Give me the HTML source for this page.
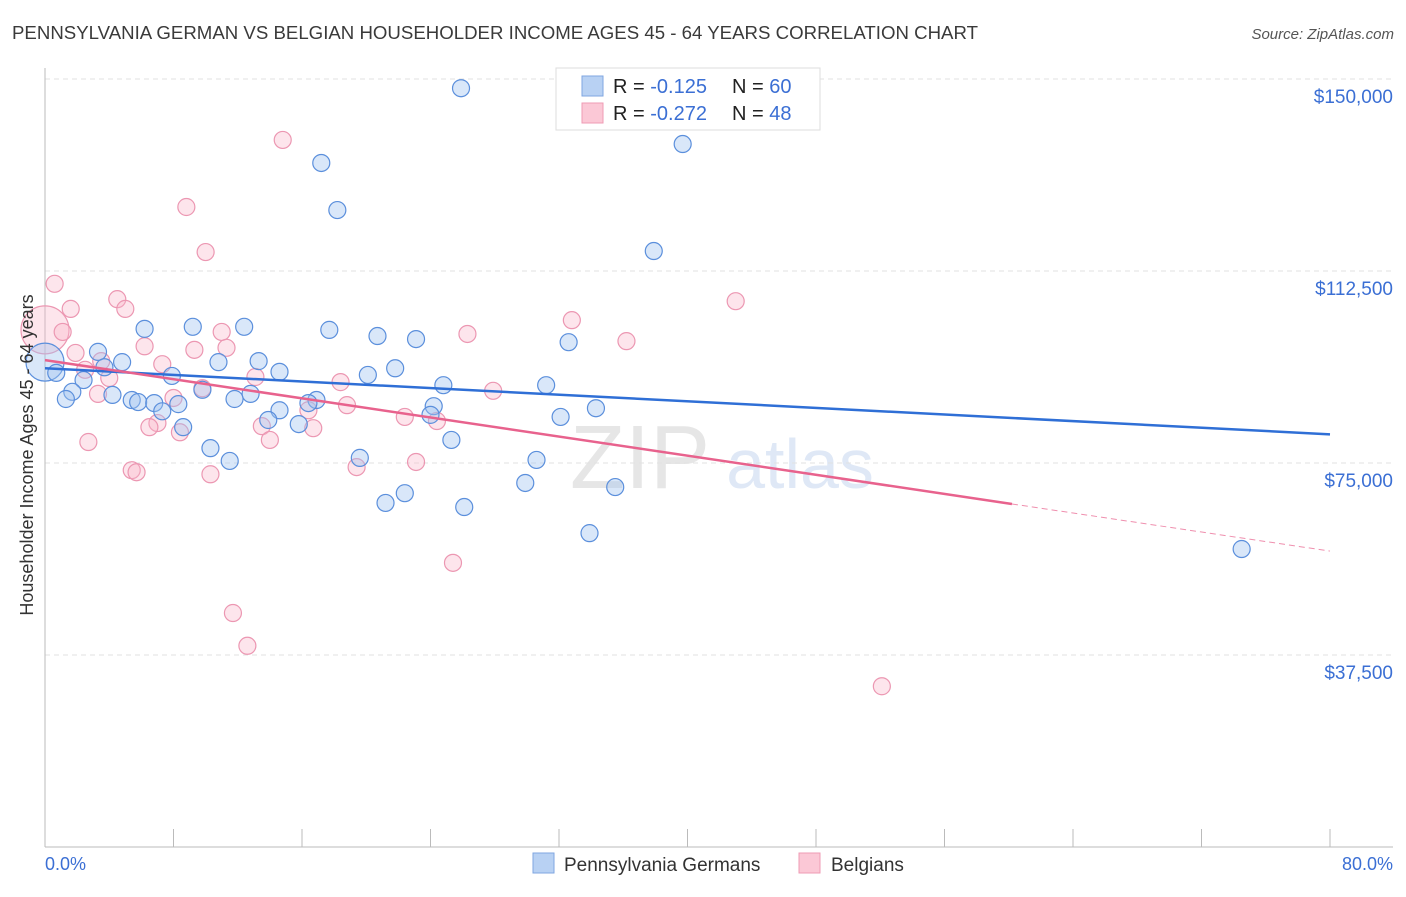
<!DOCTYPE html>
<html><head><meta charset="utf-8"><style>
body{margin:0;background:#fff;font-family:"Liberation Sans",sans-serif;}
svg text{font-family:"Liberation Sans",sans-serif;}
</style></head><body>
<svg id="chart" width="1406" height="892">
<text x="12" y="39" font-size="18" fill="#3a3a3a" textLength="966" lengthAdjust="spacingAndGlyphs">PENNSYLVANIA GERMAN VS BELGIAN HOUSEHOLDER INCOME AGES 45 - 64 YEARS CORRELATION CHART</text>
<text x="1394" y="39" font-size="15" fill="#555" font-style="italic" text-anchor="end">Source: ZipAtlas.com</text>
<text x="640" y="488" font-size="90" fill="#e6e6e6" font-family="Liberation Serif" text-anchor="middle">ZIP</text>
<text x="800" y="488" font-size="70" fill="#dfe8f6" text-anchor="middle">atlas</text>
<g id="grid"></g><g id="axes"></g><g id="pts"></g><g id="lines"></g>
<text x="33" y="455" font-size="18" fill="#333" text-anchor="middle" transform="rotate(-90 33 455)">Householder Income Ages 45 - 64 years</text>
<text x="45" y="870" font-size="18" fill="#3b6fd4">0.0%</text>
<text x="1393" y="870" font-size="18" fill="#3b6fd4" text-anchor="end">80.0%</text>
<g>
<rect x="556" y="68" width="264" height="62" fill="#fff" stroke="#ddd"/>
<rect x="582" y="76" width="21" height="20" fill="#b8d1f3" stroke="#7fa6e0"/>
<rect x="582" y="103" width="21" height="20" fill="#fbc8d6" stroke="#ef9bb4"/>
<text x="613" y="93" font-size="20" fill="#222">R = <tspan fill="#3b6fd4"> -0.125</tspan><tspan x="732">N = </tspan><tspan fill="#3b6fd4">60</tspan></text>
<text x="613" y="120" font-size="20" fill="#222">R = <tspan fill="#3b6fd4">-0.272</tspan><tspan x="732">N = </tspan><tspan fill="#3b6fd4">48</tspan></text>
</g>
<g>
<rect x="533" y="853" width="21" height="20" fill="#b8d1f3" stroke="#7fa6e0"/>
<text x="564" y="871" font-size="19" fill="#333">Pennsylvania Germans</text>
<rect x="799" y="853" width="21" height="20" fill="#fbc8d6" stroke="#ef9bb4"/>
<text x="831" y="871" font-size="19" fill="#333">Belgians</text>
</g>
</svg>
<script>
const yTicks=[37500,75000,112500,150000];
const yTickLabels=["$37,500","$75,000","$112,500","$150,000"];
const blueX=[25.9,39.7,17.2,18.2,37.9,6.2,9.2,12.4,17.7,20.7,23.1,32.6,3.3,4.8,10.8,13.3,0.7,3.7,14.6,20.1,21.8,7.9,2.4,24.8,31.2,1.7,1.3,4.2,9.8,12.8,5.4,5.8,6.8,8.3,11.8,16.9,16.4,34.3,24.2,14.6,7.3,24.0,32.1,13.9,8.6,15.8,25.3,10.3,19.6,11.5,30.6,29.9,35.5,22.4,21.2,26.1,33.9,74.5];
const blueY=[148200,137300,133600,124400,116400,101200,101600,101600,101000,99800,99200,98600,96700,94700,94700,94900,92600,93700,92800,92200,93500,92000,91200,90200,90200,88900,87500,88300,89300,88500,87300,86900,86700,86500,87500,87300,86700,85700,86100,85300,85100,84400,84000,83400,82000,82600,79500,77900,76000,75400,75600,71100,70300,69100,67200,66400,61300,58200];
const pinkX=[14.8,8.8,10.0,0.6,43.0,4.5,5.0,1.6,32.8,1.1,11.0,26.3,36.2,6.2,9.3,11.3,1.9,3.5,7.3,2.5,4.0,13.1,18.4,9.8,27.9,3.3,8.0,18.8,16.4,22.4,24.4,7.0,6.5,13.5,16.7,8.4,14.0,2.7,23.1,19.4,5.4,5.7,10.3,25.4,11.7,12.6,52.1];
const pinkY=[138100,125000,116200,110000,106600,107000,105100,105100,102900,100600,100600,100200,98800,97800,97100,97500,96500,94900,94300,93200,91600,91800,90800,89600,89100,88500,87700,86300,85300,84000,83200,82800,82000,82200,81800,81000,79500,79100,75200,74200,73600,73200,72800,55500,45700,39300,31400];
const bigBlue=[0,94700], bigPink=[0,101000];
const blueTrend=[[0,93500],[80,80600]];
const pinkTrend=[[0,95100],[60.2,67000],[80,57800]];
const X=p=>45+p/80*1285, Y=v=>847-v/37500*192;
const NS="http://www.w3.org/2000/svg";
function mk(parent,tag,attrs){const e=document.createElementNS(NS,tag);for(const k in attrs)e.setAttribute(k,attrs[k]);document.getElementById(parent).appendChild(e);return e;}
yTicks.forEach((t,i)=>{
 const l=mk('grid','line',{x1:45,x2:1393,y1:Y(t),y2:Y(t),stroke:'#e2e2e2','stroke-dasharray':'5,4'});
 
 
 const tx=mk('grid','text',{x:1393,y:Y(t)+24,'font-size':19,fill:'#3b6fd4','text-anchor':'end'});
 tx.textContent=yTickLabels[i];
 
 
});
const ax=mk('axes','line',{x1:45,x2:45,y1:68,y2:847,stroke:'#bbb'});


const bx=mk('axes','line',{x1:45,x2:1393,y1:847,y2:847,stroke:'#bbb'});


for(let i=0;i<=10;i++){
 const t=mk('axes','line',{x1:X(i*8),x2:X(i*8),y1:829,y2:847,stroke:'#bbb'});
 
 
}
function dot(x,y,r,blue){
 const c=mk('pts','circle',{cx:X(x),cy:Y(y),r:r,fill:blue?'rgba(160,196,240,0.4)':'rgba(248,180,200,0.35)',stroke:blue?'#5b8fdc':'#ec97b2','stroke-width':1.2});
 
 
}
dot(bigPink[0],bigPink[1],24,false);
dot(bigBlue[0],bigBlue[1],19,true);
pinkX.forEach((x,i)=>dot(x,pinkY[i],8.5,false));
blueX.forEach((x,i)=>dot(x,blueY[i],8.5,true));
const bl=mk('lines','line',{x1:X(blueTrend[0][0]),y1:Y(blueTrend[0][1]),x2:X(blueTrend[1][0]),y2:Y(blueTrend[1][1]),stroke:'#2f6fd6','stroke-width':2.5});


const pl=mk('lines','line',{x1:X(pinkTrend[0][0]),y1:Y(pinkTrend[0][1]),x2:X(pinkTrend[1][0]),y2:Y(pinkTrend[1][1]),stroke:'#e8628d','stroke-width':2.5});


const pd=mk('lines','line',{x1:X(pinkTrend[1][0]),y1:Y(pinkTrend[1][1]),x2:X(pinkTrend[2][0]),y2:Y(pinkTrend[2][1]),stroke:'#ef8fae','stroke-width':1,'stroke-dasharray':'6,4'});


</script>
</body></html>
